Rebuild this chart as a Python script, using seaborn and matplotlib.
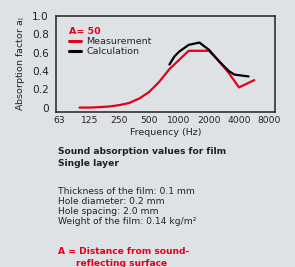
import numpy as np
import pandas as pd
import matplotlib
matplotlib.use("Agg")
import matplotlib.pyplot as plt
import seaborn as sns

# data
freq_meas = [100, 125, 160, 200, 250, 315, 400, 500, 630, 800, 1000, 1250, 1600, 2000, 2500, 3150, 4000, 5700]
alpha_meas = [0.0, 0.0, 0.005, 0.012, 0.027, 0.05, 0.10, 0.17, 0.28, 0.42, 0.52, 0.62, 0.62, 0.62, 0.51, 0.38, 0.22, 0.30]
freq_calc = [800, 900, 1000, 1250, 1600, 2000, 2500, 3150, 3600, 5000]
alpha_calc = [0.47, 0.56, 0.61, 0.685, 0.71, 0.63, 0.51, 0.40, 0.36, 0.34]
xticks = [63, 125, 250, 500, 1000, 2000, 4000, 8000]
yticks = [0, 0.2, 0.4, 0.6, 0.8, 1.0]
ytick_labels = ["0", "0.2", "0.4", "0.6", "0.8", "1.0"]

bg = "#dee2e5"
red = "#e3001b"

df = pd.concat([
    pd.DataFrame({"f": freq_meas, "a": alpha_meas, "kind": "Measurement"}),
    pd.DataFrame({"f": freq_calc, "a": alpha_calc, "kind": "Calculation"}),
])

sns.set_style("white")
plt.rcParams["font.family"] = ["DejaVu Sans"]

fig = plt.figure(figsize=(2.95, 2.67), dpi=100, facecolor=bg)
W, H = 295, 267
ax = fig.add_axes([56 / W, 1 - 111.7 / H, (275 - 56) / W, (111.7 - 16) / H])
ax.set_facecolor(bg)

sns.lineplot(data=df, x="f", y="a", hue="kind", palette={"Measurement": red, "Calculation": "black"},
             hue_order=["Measurement", "Calculation"], linewidth=1.6, ax=ax, sort=False)

ax.set_xscale("log")
ax.set_xlim(58, 9200)
ax.set_ylim(-0.045, 0.99)
ax.set_xticks(xticks)
ax.set_xticklabels([str(t) for t in xticks])
ax.minorticks_off()
ax.set_yticks(yticks)
ax.set_yticklabels(ytick_labels)
ax.tick_params(axis="x", length=0, labelsize=6.6, colors="#222222", pad=3)
ax.tick_params(axis="y", length=0, labelsize=7.6, colors="#222222", pad=5)
for s in ax.spines.values():
    s.set_color("#222222")
    s.set_linewidth(1.1)
ax.set_xlabel("Frequency (Hz)", fontsize=6.8, color="#222222", labelpad=2)
ax.set_ylabel("Absorption factor a$_\\mathregular{l}$", fontsize=6.8, color="#222222", labelpad=4)

leg = ax.legend(title="A= 50", loc="upper left", frameon=False, fontsize=6.8, handlelength=1.3,
                handletextpad=0.5, borderaxespad=0.3, labelspacing=0.1, alignment="left",
                bbox_to_anchor=(0.03, 0.95))
leg.get_title().set_color(red)
leg.get_title().set_fontweight("bold")
leg.get_title().set_fontsize(6.8)
for line in leg.get_lines():
    line.set_linewidth(2.2)

def txt(x, y, s, **kw):
    fig.text(x / W, 1 - y / H, s, va="center", ha="left", fontsize=6.6, color="#222222", **kw)

txt(58, 152, "Sound absorption values for film", fontweight="bold")
txt(58, 163, "Single layer", fontweight="bold")
txt(58, 191, "Thickness of the film: 0.1 mm")
txt(58, 201, "Hole diameter: 0.2 mm")
txt(58, 211.5, "Hole spacing: 2.0 mm")
txt(58, 222, "Weight of the film: 0.14 kg/m²")
fig.text(58 / W, 1 - 252 / H, "A = Distance from sound-", fontsize=6.6, color=red, fontweight="bold", va="center")
fig.text(76 / W, 1 - 263 / H, "reflecting surface", fontsize=6.6, color=red, fontweight="bold", va="center")

fig.savefig("out.png", dpi=100, facecolor=bg)
